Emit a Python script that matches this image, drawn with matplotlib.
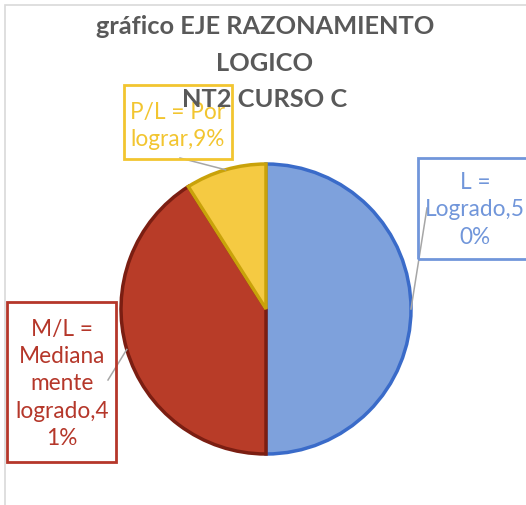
import numpy as np
import matplotlib
matplotlib.use("Agg")
import matplotlib.pyplot as plt
from matplotlib.patches import Rectangle

# datos del gráfico
categorias = ["L = Logrado", "M/L = Medianamente logrado", "P/L = Por lograr"]
porcentajes = [50, 41, 9]
etiquetas = ["L =\nLogrado,5\n0%", "M/L =\nMediana\nmente\nlogrado,4\n1%", "P/L = Por\nlograr,9%"]
titulo = "gráfico EJE RAZONAMIENTO\nLOGICO\nNT2 CURSO C"

relleno = ["#7EA1DC", "#B83C28", "#F5CA42"]
borde = ["#3A6BC9", "#7B1E12", "#C9A20A"]
color_texto = ["#7196DA", "#B5372A", "#F2C530"]

W, H = 526, 506
plt.rcParams["font.family"] = ["Lato", "DejaVu Sans"]

fig = plt.figure(figsize=(W / 100, H / 100), dpi=100)
ax = fig.add_axes([0, 0, 1, 1])

def py(y):
    # convertir coordenada de pixel (desde arriba) a coordenada del eje
    return H - y

centro = (266, py(310))
radio = 145
wedges, _ = ax.pie(porcentajes, colors=relleno, startangle=90, counterclock=False,
                   center=centro, radius=radio, frame=True,
                   wedgeprops=dict(linewidth=2.5))
for w, c in zip(wedges, borde):
    w.set_edgecolor(c)
    w.set_joinstyle("miter")
ax.set_xlim(0, W)
ax.set_ylim(0, H)
ax.set_aspect("equal")
ax.axis("off")

# borde del área del gráfico
ax.add_patch(Rectangle((5, py(H + 10)), W + 10, H + 4, fill=False,
                       edgecolor="#D9D9D9", linewidth=1.2, zorder=0))

# cajas de etiquetas: (x0, y0, x1, y1) en pixeles, centro del texto, inicio de la guía
cajas = [
    ((418, 159, 540, 260), (475, 210), (427, 209)),
    ((7, 303, 116, 463), (62, 384), (108, 381)),
    ((124, 86, 232, 160), (178, 126), (180, 159)),
]

for i, (w, (caja, ctxt, guia)) in enumerate(zip(wedges, cajas)):
    ang = np.deg2rad((w.theta1 + w.theta2) / 2)
    px = centro[0] + radio * np.cos(ang)
    pyy = centro[1] + radio * np.sin(ang)
    ax.plot([guia[0], px], [py(guia[1]), pyy], color="#A6A6A6", linewidth=1.1, zorder=3)
    x0, y0, x1, y1 = caja
    ax.add_patch(Rectangle((x0, py(y1)), x1 - x0, y1 - y0, fill=False,
                           edgecolor=color_texto[i], linewidth=2, zorder=4))
    ax.text(ctxt[0], py(ctxt[1]), etiquetas[i], color=color_texto[i], fontsize=16.3,
            ha="center", va="center", linespacing=1.38, zorder=5)

ax.text(265, py(63), titulo, color="#595959", fontsize=18.3, fontweight="bold",
        ha="center", va="center", linespacing=1.72, zorder=6)

fig.savefig("out.png", dpi=100)
